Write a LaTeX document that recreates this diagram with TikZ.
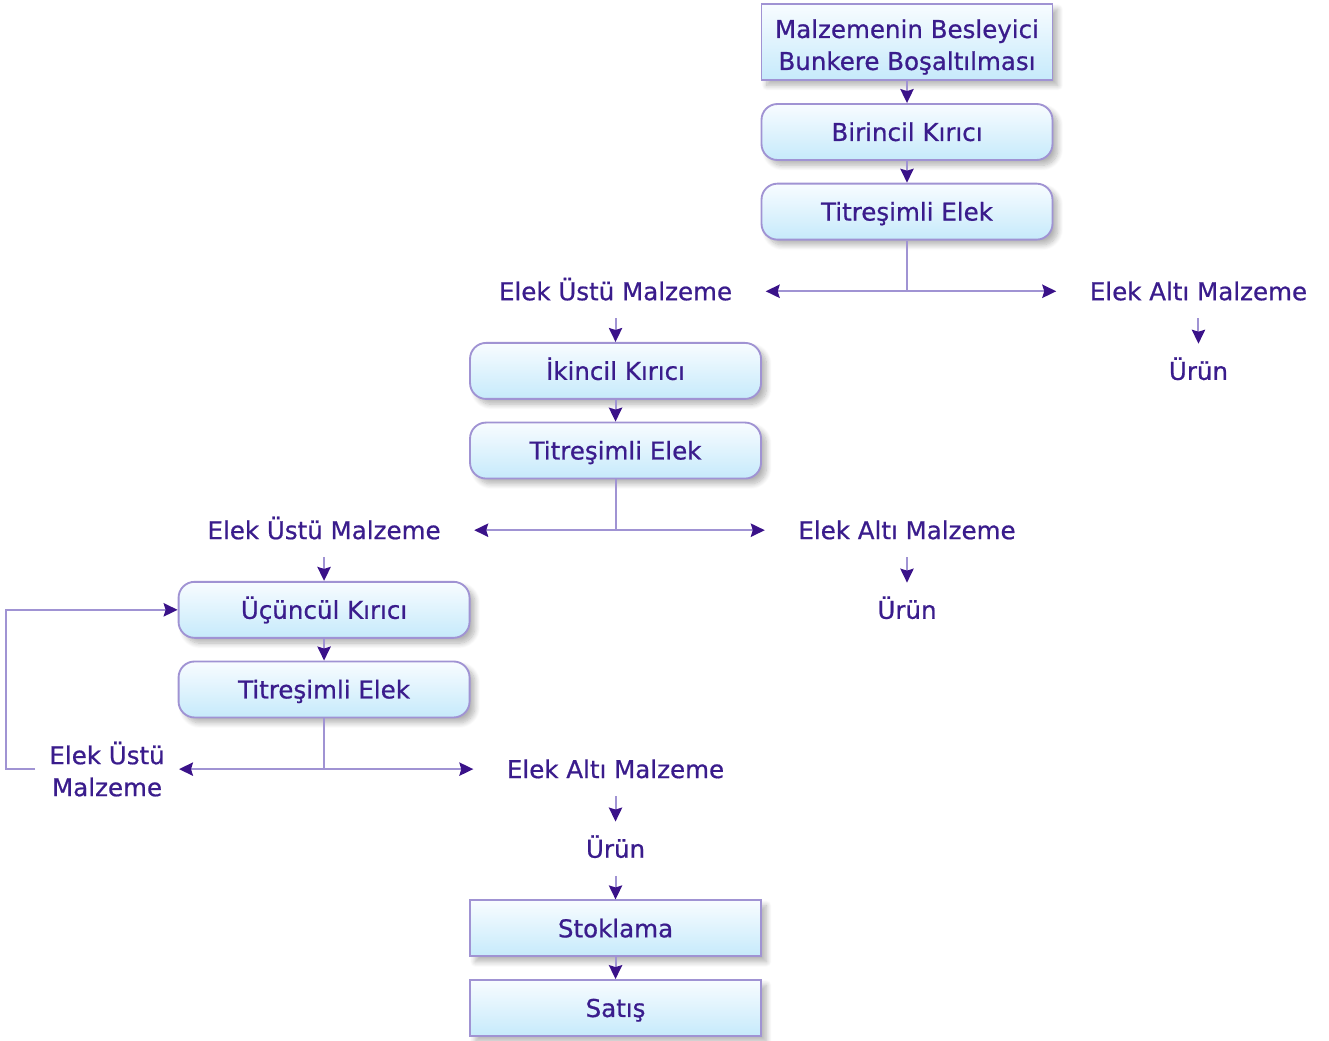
\documentclass[tikz,border=0pt]{standalone}
\usepackage{fontspec}
\setmainfont{DejaVu Sans}[BoldFont={DejaVu Sans}, BoldFeatures={FakeBold=0.7}]
\usetikzlibrary{positioning,arrows.meta,shadows.blur}
\definecolor{txt}{HTML}{3A1C8C}
\definecolor{edgec}{HTML}{A093D3}
\definecolor{tipc}{HTML}{3A1289}
\definecolor{topc}{HTML}{F8FCFF}
\definecolor{botc}{HTML}{C6EAFB}

\begin{document}
\begin{tikzpicture}[x=0.75pt, y=0.75pt, on grid, node distance=59.73pt and 218.6pt,
  font=\fontsize{18.4}{24}\selectfont\bfseries,
  box/.style={draw=edgec, line width=1.4pt, top color=topc, bottom color=botc, text=txt, minimum width=218.25pt, minimum height=42pt, inner sep=0pt, align=center, blur shadow={shadow xshift=4pt, shadow yshift=-4pt, shadow opacity=30, shadow blur radius=4pt, shadow blur steps=10}},
  rbox/.style={box, rounded corners=12pt},
  one/.style={text height=13.4pt, text depth=0pt},
  lbl/.style={text=txt, inner xsep=25pt, inner ysep=13.5pt, align=center},
  ln/.style={draw=edgec, line width=1.5pt},
  arr/.style={ln, -{Stealth[length=10.5pt, width=10pt, inset=1.5pt, color=tipc]}}]
  \useasboundingbox (0,0) rectangle (1329,-1041);

  \node[box, minimum height=57pt] (bunker) at (907,-42) {\rule{0pt}{21.5pt}Malzemenin Besleyici\\Bunkere Boşaltılması};
  \node[rbox, one, below=67.5pt of bunker] (kirici1) {Birincil Kırıcı};
  \node[rbox, one, below=of kirici1] (elek1) {Titreşimli Elek};
  \node[lbl, one, below left=of elek1] (ustu1) {Elek Üstü Malzeme};
  \node[lbl, one, below right=of elek1] (altu1) {Elek Altı Malzeme};
  \node[lbl, one, below=of altu1] (urun1) {Ürün};

  \node[rbox, one, below=of ustu1] (kirici2) {İkincil Kırıcı};
  \node[rbox, one, below=of kirici2] (elek2) {Titreşimli Elek};
  \node[lbl, one, below left=of elek2] (ustu2) {Elek Üstü Malzeme};
  \node[lbl, one, below right=of elek2] (altu2) {Elek Altı Malzeme};
  \node[lbl, one, below=of altu2] (urun2) {Ürün};

  \node[rbox, one, below=of ustu2] (kirici3) {Üçüncül Kırıcı};
  \node[rbox, one, below=of kirici3] (elek3) {Titreşimli Elek};
  \node[lbl, inner xsep=10.5pt, below left=59.73pt and 162.75pt of elek3] (ustu3) {Elek Üstü\\Malzeme};
  \node[lbl, one, below right=of elek3] (altu3) {Elek Altı Malzeme};
  \node[lbl, one, below=of altu3] (urun3) {Ürün};
  \node[box, one, below=of urun3] (stok) {Stoklama};
  \node[box, one, below=of stok] (satis) {Satış};

  \coordinate (s1) at (elek1 |- ustu1);
  \coordinate (s2) at (elek2 |- ustu2);
  \coordinate (s3) at (elek3 |- ustu3);

  \draw[arr] (bunker) -- (kirici1);
  \draw[arr] (kirici1) -- (elek1);
  \draw[ln] (elek1) -- (s1);
  \draw[arr] (s1) -- (ustu1);
  \draw[arr] (s1) -- (altu1);
  \draw[arr] (altu1) -- (urun1);

  \draw[arr] (ustu1) -- (kirici2);
  \draw[arr] (kirici2) -- (elek2);
  \draw[ln] (elek2) -- (s2);
  \draw[arr] (s2) -- (ustu2);
  \draw[arr] (s2) -- (altu2);
  \draw[arr] (altu2) -- (urun2);

  \draw[arr] (ustu2) -- (kirici3);
  \draw[arr] (kirici3) -- (elek3);
  \draw[ln] (elek3) -- (s3);
  \draw[arr] (s3) -- (ustu3);
  \draw[arr] (s3) -- (altu3);
  \draw[arr] (ustu3.west) -- ++(-29,0) |- (kirici3);
  \draw[arr] (altu3) -- (urun3);
  \draw[arr] (urun3) -- (stok);
  \draw[arr] (stok) -- (satis);
\end{tikzpicture}
\end{document}
